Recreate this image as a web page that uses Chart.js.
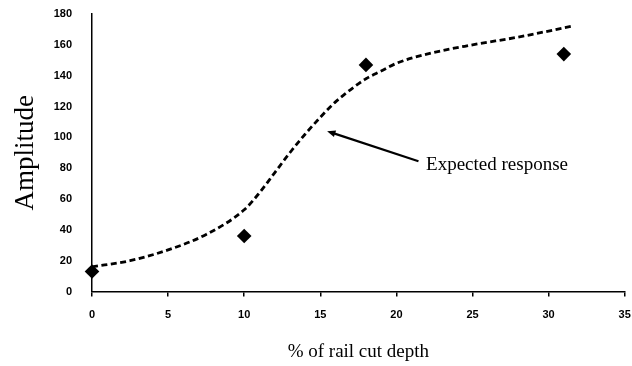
<!DOCTYPE html>
<html>
<head>
<meta charset="utf-8">
<script src="https://cdn.jsdelivr.net/npm/chart.js@4/dist/chart.umd.min.js"></script>
<style>
  html, body { margin: 0; padding: 0; background: #fff; }
  #wrap { width: 632px; height: 366px; position: relative; }
</style>
</head>
<body>
<div id="wrap"><canvas id="c" width="632" height="366"></canvas></div>
<script>
// Measured amplitudes at each rail cut depth (%)
const measuredDepth = [0, 10, 18, 31];
const measuredAmplitude = [13, 36, 147, 154];

// Expected response curve
const expectedDepth = [0, 2.5, 5, 7.5, 10, 11, 12, 13, 14, 15, 16, 17, 18, 19, 20, 22, 25, 28, 31.5];
const expectedAmplitude = [16, 20, 27, 37, 53, 64, 77, 90, 102, 113, 123, 131, 138, 143, 148, 154, 160, 165, 172];

// Axis ticks
const xTicks = [0, 5, 10, 15, 20, 25, 30, 35];
const yTicks = [0, 20, 40, 60, 80, 100, 120, 140, 160, 180];

// Annotation: arrow from label to the curve
const noteText = 'Expected response';
const noteArrowTip = { x: 15.45, y: 104 };
const noteArrowTail = { x: 21.45, y: 84.5 };
const noteLabelAt = { x: 21.95, y: 82 };

const serif = '"Liberation Serif", "Times New Roman", serif';
const sans = '"Liberation Sans", Arial, sans-serif';

const annotationPlugin = {
  id: 'expectedNote',
  afterDatasetsDraw(chart) {
    const { ctx, scales: { x, y } } = chart;
    const tx = x.getPixelForValue(noteArrowTip.x), ty = y.getPixelForValue(noteArrowTip.y);
    const sx = x.getPixelForValue(noteArrowTail.x), sy = y.getPixelForValue(noteArrowTail.y);
    const ang = Math.atan2(ty - sy, tx - sx);
    const head = 9, spread = 0.4;
    ctx.save();
    ctx.strokeStyle = '#000';
    ctx.fillStyle = '#000';
    ctx.lineWidth = 2.2;
    ctx.beginPath();
    ctx.moveTo(sx, sy);
    ctx.lineTo(tx - Math.cos(ang) * head * 0.7, ty - Math.sin(ang) * head * 0.7);
    ctx.stroke();
    ctx.beginPath();
    ctx.moveTo(tx, ty);
    ctx.lineTo(tx - head * Math.cos(ang - spread), ty - head * Math.sin(ang - spread));
    ctx.lineTo(tx - head * Math.cos(ang + spread), ty - head * Math.sin(ang + spread));
    ctx.closePath();
    ctx.fill();
    ctx.font = '19px ' + serif;
    ctx.textAlign = 'left';
    ctx.textBaseline = 'middle';
    ctx.fillText(noteText, x.getPixelForValue(noteLabelAt.x), y.getPixelForValue(noteLabelAt.y));
    ctx.restore();
  }
};

new Chart(document.getElementById('c'), {
  type: 'scatter',
  data: {
    datasets: [
      {
        label: 'Expected response',
        type: 'line',
        data: expectedDepth.map((d, i) => ({ x: d, y: expectedAmplitude[i] })),
        borderColor: '#000',
        borderWidth: 2.8,
        borderDash: [6, 3.5],
        pointRadius: 0,
        fill: false,
        cubicInterpolationMode: 'monotone',
        order: 2
      },
      {
        label: 'Measured',
        data: measuredDepth.map((d, i) => ({ x: d, y: measuredAmplitude[i] })),
        pointStyle: 'rectRot',
        pointRadius: 7.3,
        pointHoverRadius: 7.3,
        backgroundColor: '#000',
        borderColor: '#000',
        borderWidth: 0,
        order: 1
      }
    ]
  },
  options: {
    responsive: false,
    animation: false,
    events: [],
    clip: false,
    layout: { padding: { left: 0, right: 1, top: 14, bottom: 0 } },
    plugins: { legend: { display: false }, tooltip: { enabled: false } },
    scales: {
      x: {
        type: 'linear',
        min: 0, max: 35,
        afterBuildTicks(s) { s.ticks = xTicks.map(v => ({ value: v })); },
        afterFit(s) { s.height = 74.5; s.paddingRight = 0; s.paddingLeft = 0; },
        border: { display: true, color: '#000', width: 1.5 },
        grid: { display: true, drawOnChartArea: false, drawTicks: true, tickLength: 5, color: '#000', lineWidth: 1.5 },
        ticks: { color: '#000', padding: 12, font: { family: sans, size: 11, weight: 'bold' }, maxRotation: 0 },
        title: { display: true, text: '% of rail cut depth', color: '#000', font: { family: serif, size: 19, lineHeight: 1.2 }, padding: { top: 0, bottom: 3 } }
      },
      y: {
        type: 'linear',
        min: 0, max: 180,
        afterBuildTicks(s) { s.ticks = yTicks.map(v => ({ value: v })); },
        afterFit(s) { s.width = 92; s.paddingTop = 0; s.paddingBottom = 0; },
        border: { display: true, color: '#000', width: 1.5 },
        grid: { display: false, drawTicks: false },
        ticks: { color: '#000', padding: 20, font: { family: sans, size: 11, weight: 'bold' } },
        title: { display: true, text: 'Amplitude', color: '#000', font: { family: serif, size: 27, lineHeight: 1.2 }, padding: { top: 10, bottom: 0 } }
      }
    }
  },
  plugins: [annotationPlugin]
});
</script>
</body>
</html>
